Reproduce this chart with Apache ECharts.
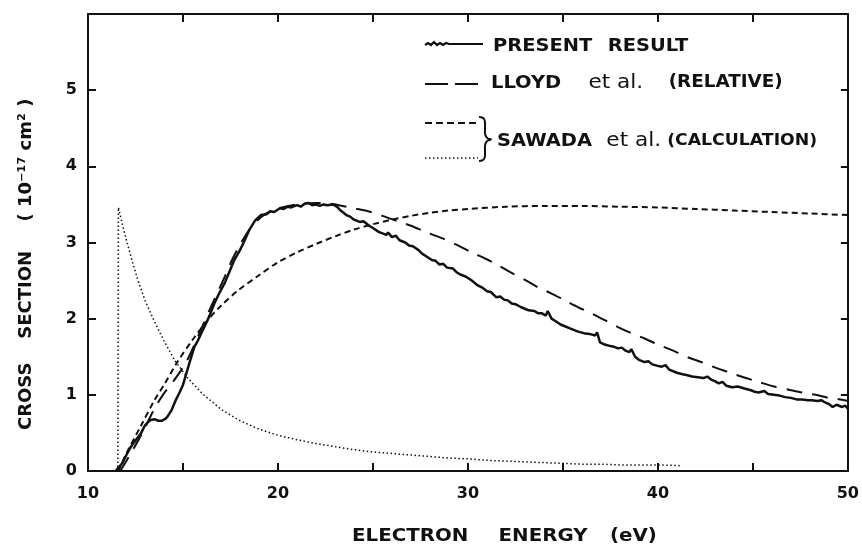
<!DOCTYPE html>
<html><head><meta charset="utf-8">
<script src="https://cdn.jsdelivr.net/npm/echarts@6/dist/echarts.min.js"></script>
<style>html,body{margin:0;padding:0;background:#fff}#c{width:862px;height:544px}</style>
</head><body><div id="c"></div>
<script>
// ---- data (energy eV, cross section 1e-17 cm^2) ----
var xTicks = [10, 20, 30, 40, 50];
var yTicks = [0, 1, 2, 3, 4, 5];
var presentResult = [[11.45,0.0],[11.8,0.1],[12.0,0.2],[12.26,0.32],[12.5,0.40],[12.8,0.50],[13.0,0.6],[13.15,0.64],[13.3,0.67],[13.5,0.68],[13.7,0.66],[13.9,0.66],[14.1,0.69],[14.2,0.72],[14.4,0.80],[14.6,0.92],[14.8,1.02],[15.0,1.13],[15.2,1.30],[15.4,1.47],[15.6,1.63],[15.8,1.72],[16.0,1.83],[16.2,1.93],[16.4,2.04],[16.65,2.2],[16.9,2.33],[17.2,2.47],[17.45,2.62],[17.7,2.77],[18.0,2.9],[18.25,3.03],[18.5,3.17],[18.8,3.29],[19.1,3.36],[19.4,3.37],[19.6,3.41],[19.8,3.40],[20.1,3.45],[20.3,3.44],[20.5,3.47],[20.7,3.46],[21.0,3.49],[21.2,3.47],[21.4,3.51],[21.6,3.52],[21.8,3.49],[22.0,3.50],[22.2,3.48],[22.4,3.50],[22.6,3.49],[22.9,3.50],[23.1,3.47],[23.3,3.42],[23.6,3.36],[23.8,3.34],[24.0,3.30],[24.3,3.27],[24.5,3.28],[24.8,3.22],[25.0,3.19],[25.3,3.14],[25.5,3.12],[25.7,3.10],[25.8,3.13],[26.0,3.07],[26.2,3.09],[26.4,3.03],[26.7,3.00],[26.9,2.96],[27.1,2.95],[27.4,2.90],[27.6,2.85],[27.8,2.82],[28.1,2.77],[28.3,2.76],[28.5,2.71],[28.7,2.72],[28.9,2.67],[29.2,2.66],[29.4,2.61],[29.6,2.58],[29.9,2.55],[30.2,2.50],[30.5,2.44],[30.8,2.40],[31.0,2.36],[31.2,2.35],[31.5,2.28],[31.7,2.29],[31.9,2.25],[32.1,2.24],[32.3,2.20],[32.5,2.19],[32.8,2.15],[33.0,2.13],[33.2,2.11],[33.5,2.10],[33.7,2.07],[33.9,2.07],[34.1,2.04],[34.2,2.10],[34.4,2.00],[34.6,1.97],[34.9,1.92],[35.1,1.90],[35.4,1.87],[35.6,1.85],[35.8,1.83],[36.1,1.81],[36.4,1.80],[36.7,1.78],[36.8,1.82],[36.95,1.69],[37.2,1.66],[37.5,1.64],[37.7,1.63],[37.9,1.61],[38.1,1.62],[38.3,1.58],[38.5,1.56],[38.6,1.60],[38.8,1.50],[39.0,1.46],[39.3,1.43],[39.5,1.44],[39.7,1.40],[40.0,1.38],[40.2,1.37],[40.4,1.39],[40.6,1.33],[40.8,1.31],[41.0,1.29],[41.3,1.27],[41.5,1.26],[41.8,1.24],[42.1,1.23],[42.4,1.22],[42.6,1.24],[42.8,1.20],[43.0,1.18],[43.2,1.15],[43.4,1.17],[43.6,1.12],[43.9,1.10],[44.2,1.11],[44.6,1.08],[44.9,1.06],[45.1,1.04],[45.3,1.03],[45.6,1.05],[45.8,1.01],[46.1,1.00],[46.4,0.99],[46.7,0.97],[47.0,0.96],[47.3,0.94],[47.6,0.94],[47.9,0.93],[48.1,0.93],[48.4,0.92],[48.6,0.93],[48.8,0.90],[49.0,0.88],[49.2,0.84],[49.4,0.87],[49.5,0.86],[49.7,0.84],[49.85,0.86],[50.0,0.82]];
var lloydRelative = [[11.7,0],[12.3,0.25],[12.9,0.52],[13.5,0.82],[14.0,1.02],[14.5,1.18],[15.1,1.40],[15.5,1.6],[15.9,1.83],[16.5,2.17],[17.2,2.55],[17.6,2.78],[18.0,2.97],[18.5,3.17],[19.1,3.33],[19.6,3.41],[20.2,3.46],[21.0,3.50],[22.0,3.52],[22.7,3.51],[23.4,3.48],[24.0,3.45],[24.75,3.41],[25.5,3.35],[26.3,3.28],[27.0,3.22],[27.85,3.13],[28.7,3.05],[29.5,2.96],[30.2,2.87],[30.9,2.79],[31.6,2.70],[32.3,2.60],[33.0,2.51],[33.7,2.41],[34.4,2.33],[35.1,2.24],[35.8,2.15],[36.5,2.07],[37.2,1.98],[37.9,1.89],[38.6,1.81],[39.3,1.74],[40.0,1.66],[40.8,1.58],[41.6,1.49],[42.4,1.42],[43.1,1.35],[43.7,1.30],[44.5,1.23],[45.3,1.17],[46.1,1.11],[46.85,1.07],[47.6,1.03],[48.3,1.0],[49.0,0.96],[49.6,0.94],[50.0,0.92]];
var sawadaDashed = [[11.6,0],[12.0,0.22],[12.8,0.6],[13.5,0.93],[14.0,1.13],[14.7,1.43],[15.5,1.72],[16.3,1.98],[17.0,2.17],[17.9,2.37],[19.0,2.57],[20.0,2.74],[21.0,2.87],[22.0,2.98],[23.0,3.08],[24.0,3.17],[25.0,3.24],[26.0,3.30],[27.0,3.35],[28.0,3.39],[29.0,3.42],[30.0,3.44],[32.0,3.47],[34.0,3.48],[36.0,3.48],[38.0,3.47],[40.0,3.46],[42.0,3.44],[44.0,3.42],[46.0,3.40],[48.0,3.38],[50.0,3.36]];
var sawadaDotted = [[11.57,0],[11.6,3.46],[11.8,3.25],[12.0,3.05],[12.3,2.78],[12.62,2.51],[13.0,2.24],[13.5,1.96],[14.0,1.71],[14.57,1.45],[15.25,1.22],[16.0,1.02],[17.0,0.81],[18.0,0.66],[19.0,0.55],[20.0,0.47],[21.0,0.41],[22.0,0.36],[23.0,0.32],[24.0,0.28],[25.0,0.25],[26.0,0.23],[27.0,0.21],[28.0,0.19],[29.0,0.17],[30.0,0.16],[31.0,0.14],[32.0,0.13],[33.0,0.12],[34.0,0.11],[35.0,0.10],[36.0,0.09],[37.0,0.09],[38.0,0.08],[39.0,0.08],[40.0,0.08],[41.2,0.07]];

var FONT = 'DejaVu Sans';
var INK = '#111';
var chart = echarts.init(document.getElementById('c'), null, {renderer: 'canvas'});

function axisCommon() {
  return {
    axisLine: {show: true, onZero: false, lineStyle: {color: INK, width: 2}},
    axisTick: {show: true, inside: true, length: 8, lineStyle: {color: INK, width: 2}},
    splitLine: {show: false}
  };
}

var xBottom = Object.assign(axisCommon(), {
  type: 'value', position: 'bottom', min: 10, max: 50, interval: 5,
  axisLabel: {color: INK, fontFamily: FONT, fontWeight: 'bold', fontSize: 16, margin: 15,
    formatter: function (v) { return xTicks.indexOf(v) >= 0 ? String(v) : ''; }}
});
var xTop = Object.assign(axisCommon(), {
  type: 'value', position: 'top', min: 10, max: 50, interval: 5, axisLabel: {show: false}
});
var yLeft = Object.assign(axisCommon(), {
  type: 'value', position: 'left', min: 0, max: 6, interval: 1,
  axisLabel: {color: INK, fontFamily: FONT, fontWeight: 'bold', fontSize: 16, margin: 11,
    formatter: function (v) { return yTicks.indexOf(v) >= 0 ? String(v) : ''; }}
});
var yRight = Object.assign(axisCommon(), {
  type: 'value', position: 'right', min: 0, max: 6, interval: 1, axisLabel: {show: false}
});
yRight.axisTick = {show: true, inside: true, length: 7, lineStyle: {color: INK, width: 2}};

function lineSeries(name, data, style, smooth) {
  return {name: name, type: 'line', data: data, showSymbol: false, symbol: 'none',
    smooth: smooth || false, xAxisIndex: 0, yAxisIndex: 0, lineStyle: style, silent: true, animation: false};
}

var CAPS = 'bold 18px "DejaVu Sans"';
var CAPS_R = 'bold 17px "DejaVu Sans"';
var CAPS_S = 'bold 16px "DejaVu Sans"';
var LOWER = '20px "DejaVu Sans"';
function frag(font, width) {
  var o = {font: font, fill: INK};
  if (width) o.width = width;
  return o;
}
var wiggle = [[425,45],[428,43],[431,45],[434,42],[437,45],[440,43],[443,45],[446,43],[449,44],[483,44]];
var brace = [[479,117],[482,117.5],[484,119],[485,122],[485,133],[486,136.5],[488,138.5],[491,139.5],[488,140.5],[486,142.5],[485,146],[485,156],[484,159],[482,160.5],[479,161]];
var graphics = [
  {type: 'polyline', shape: {points: wiggle}, style: {stroke: INK, lineWidth: 2.2, fill: null}},
  {type: 'text', x: 493, y: 46, scaleX: 1.08, style: {text: '{a|PRESENT} {b|RESULT}', fill: INK, font: CAPS, textVerticalAlign: 'middle',
      rich: {a: frag(CAPS, 100), b: frag(CAPS)}}},
  {type: 'line', shape: {x1: 425, y1: 84, x2: 478, y2: 84}, style: {stroke: INK, lineWidth: 2, lineDash: [23, 7]}},
  {type: 'text', x: 491, y: 83, scaleX: 1.08, style: {text: '{a|LLOYD} {e|et al.} {r|(RELATIVE)}', fill: INK, font: CAPS, textVerticalAlign: 'middle',
      rich: {a: frag(CAPS, 84), e: frag(LOWER, 68), r: frag(CAPS_R)}}},
  {type: 'line', shape: {x1: 425, y1: 123, x2: 478, y2: 123}, style: {stroke: INK, lineWidth: 2, lineDash: [7, 4]}},
  {type: 'line', shape: {x1: 425, y1: 158, x2: 478, y2: 158}, style: {stroke: INK, lineWidth: 1.5, lineDash: [1.5, 2.5]}},
  {type: 'polyline', shape: {points: brace, smooth: 0.3}, style: {stroke: INK, lineWidth: 2, fill: null}},
  {type: 'text', x: 497, y: 141, scaleX: 1.08, style: {text: '{a|SAWADA} {e|et al.} {r|(CALCULATION)}', fill: INK, font: CAPS, textVerticalAlign: 'middle',
      rich: {a: frag(CAPS, 95), e: frag(LOWER, 50), r: frag(CAPS_S)}}},
  {type: 'text', x: 352, y: 536, scaleX: 1.1, style: {text: '{a|ELECTRON} {b|ENERGY} {c|(eV)}', fill: INK, font: CAPS, textVerticalAlign: 'middle',
      rich: {a: frag(CAPS, 127), b: frag(CAPS, 95), c: frag(CAPS)}}},
  {type: 'text', x: 26, y: 430, rotation: Math.PI / 2, style: {text: '{a|CROSS} {b|SECTION} {c|( 10⁻¹⁷ cm² )}', fill: INK, font: CAPS, textAlign: 'left', textVerticalAlign: 'middle',
      rich: {a: frag(CAPS, 85), b: frag(CAPS, 111), c: frag(CAPS)}}}
];

chart.setOption({
  backgroundColor: '#fff',
  animation: false,
  grid: {left: 88, right: 12, top: 14, bottom: 73, containLabel: false},
  xAxis: [xBottom, xTop],
  yAxis: [yLeft, yRight],
  series: [
    lineSeries('SAWADA et al. (CALCULATION) dotted', sawadaDotted, {color: INK, width: 1.5, type: [1.5, 2.5]}, false),
    lineSeries('SAWADA et al. (CALCULATION) dashed', sawadaDashed, {color: INK, width: 2, type: [6, 4]}, 0.3),
    lineSeries('LLOYD et al. (RELATIVE)', lloydRelative, {color: INK, width: 2, type: [16, 10]}, 0.3),
    lineSeries('PRESENT RESULT', presentResult, {color: INK, width: 2.5, type: 'solid'}, false)
  ],
  graphic: graphics
});
</script>
</body></html>
